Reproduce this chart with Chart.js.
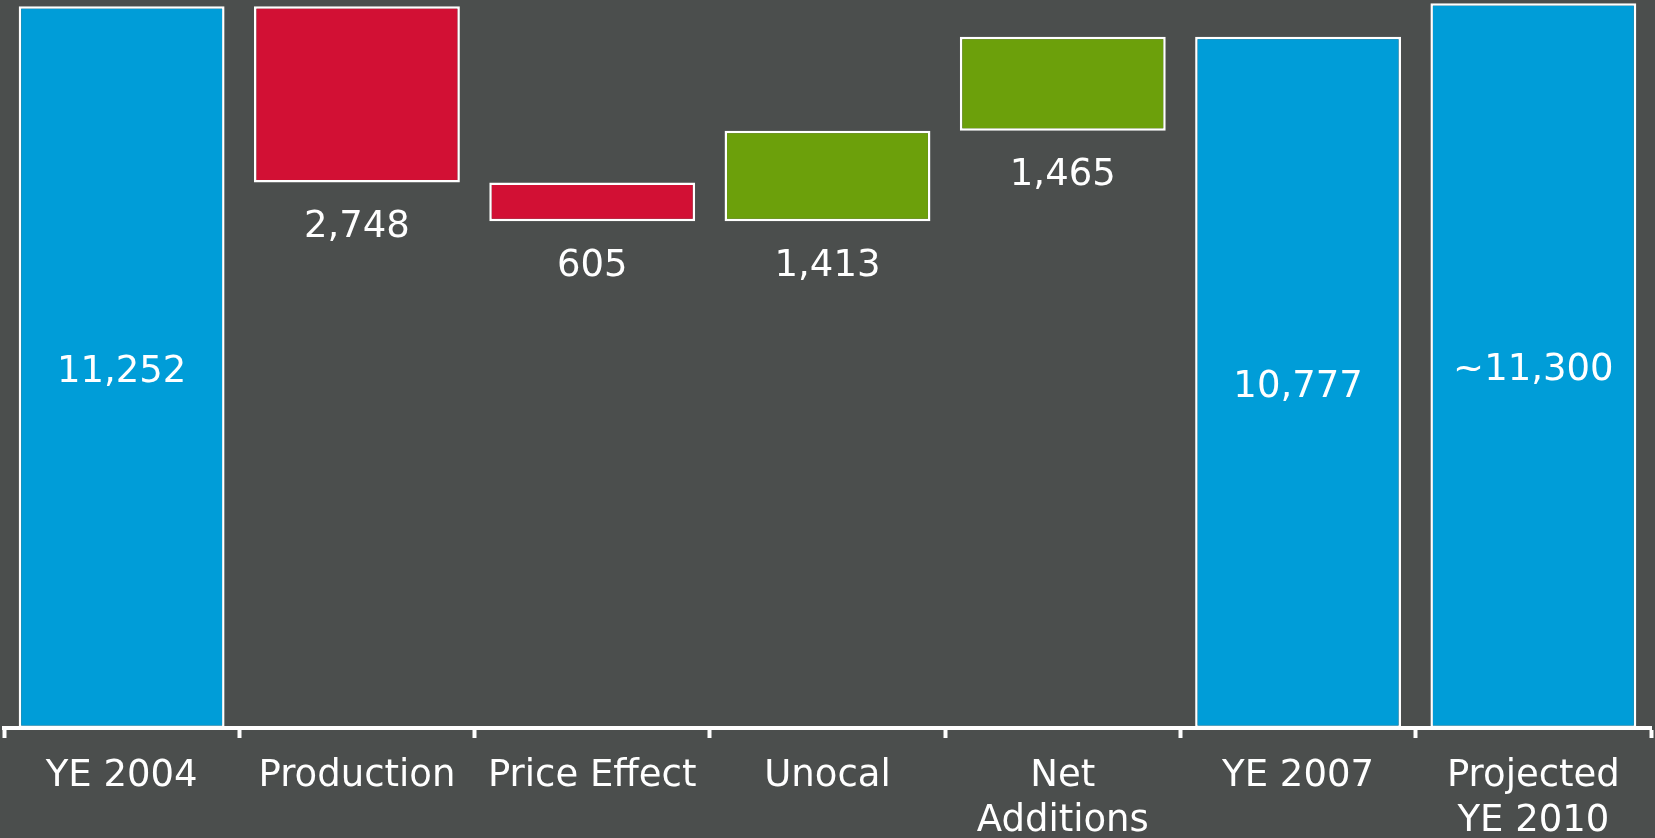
<!DOCTYPE html>
<html>
<head>
<meta charset="utf-8">
<script src="https://cdn.jsdelivr.net/npm/chart.js@4.4.0/dist/chart.umd.min.js"></script>
<style>
  html, body { margin: 0; padding: 0; background: #4b4e4d; }
  #wrap { width: 1655px; height: 838px; }
</style>
</head>
<body>
<div id="wrap"><canvas id="chart" width="1655" height="838"></canvas></div>
<script>
// Reserves waterfall
const categories = [['YE 2004'], ['Production'], ['Price Effect'], ['Unocal'], ['Net', 'Additions'], ['YE 2007'], ['Projected', 'YE 2010']];
const barStart = [0, 8504, 7899, 7899, 9312, 0, 0];
const barEnd = [11252, 11252, 8504, 9312, 10777, 10777, 11300];
const valueLabels = ['11,252', '2,748', '605', '1,413', '1,465', '10,777', '~11,300'];
const barKind = ['total', 'down', 'down', 'up', 'up', 'total', 'total'];

const kindColors = {
    total: '#009dd8',
    down: '#d21034',
    up: '#6ca00b'
};

const FONT = "'DejaVu Sans', Verdana, sans-serif";

// Draw the value labels: inside totals, below changes
const valueLabelPlugin = {
    id: 'valueLabels',
    afterDatasetsDraw(chart) {
        const ctx = chart.ctx;
        const meta = chart.getDatasetMeta(0);
        const y = chart.scales.y;
        ctx.save();
        ctx.fillStyle = '#ffffff';
        ctx.font = '37px ' + FONT;
        ctx.textAlign = 'center';
        ctx.textBaseline = 'middle';
        meta.data.forEach(function(bar, i) {
            const top = y.getPixelForValue(Math.max(barStart[i], barEnd[i]));
            const bottom = y.getPixelForValue(Math.min(barStart[i], barEnd[i]));
            let ty;
            if (barKind[i] === 'total') {
                ty = (top + bottom) / 2 + 5;
            } else {
                ty = bottom + 45;
            }
            ctx.fillText(valueLabels[i], bar.x, ty);
        });
        ctx.restore();
    }
};

new Chart(document.getElementById('chart'), {
    type: 'bar',
    data: {
        labels: categories,
        datasets: [{
            data: barStart.map((s, i) => [s, barEnd[i]]),
            backgroundColor: barKind.map(k => kindColors[k]),
            borderColor: '#ffffff',
            borderWidth: 2.5,
            borderSkipped: false,
            barPercentage: 0.875,
            categoryPercentage: 1
        }]
    },
    options: {
        responsive: false,
        animation: false,
        layout: { padding: { left: 4, right: 4, top: 0, bottom: 0 } },
        plugins: {
            legend: { display: false },
            tooltip: { enabled: false }
        },
        scales: {
            x: {
                // labels run off the bottom edge like in the slide
                afterFit: function(scale) {
                    scale.height = 110;
                },
                grid: {
                    display: true,
                    drawOnChartArea: false,
                    drawTicks: true,
                    tickLength: 10,
                    tickWidth: 4,
                    tickColor: '#ffffff'
                },
                border: { display: true, color: '#ffffff', width: 4 },
                ticks: {
                    color: '#ffffff',
                    padding: 16,
                    maxRotation: 0,
                    autoSkip: false,
                    font: { family: FONT, size: 37, lineHeight: 1.22 }
                }
            },
            y: {
                display: false,
                min: 0,
                max: 11350
            }
        }
    },
    plugins: [valueLabelPlugin]
});
</script>
</body>
</html>
